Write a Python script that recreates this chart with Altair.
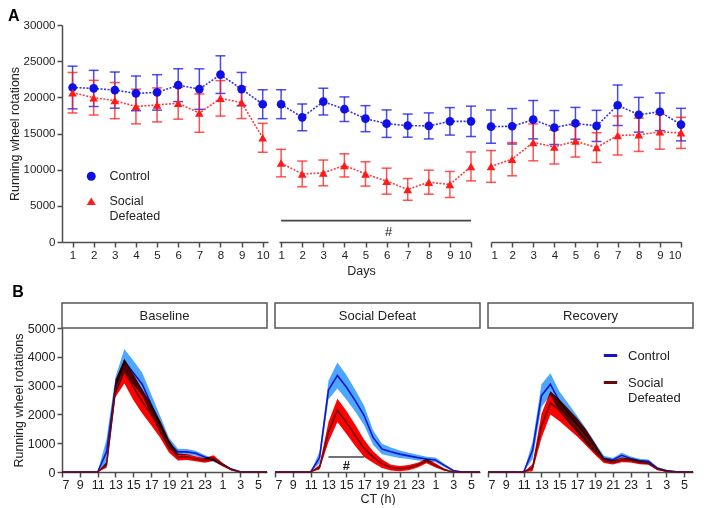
import altair as alt
import pandas as pd

FONT = "Liberation Sans"
AXC = "#4d4d4d"
groups = ["Control", "Social Defeated"]
colA = ["#1010e6", "#ff1a1a"]
shapesA = ["circle", "triangle-up"]
bandB = ["#4da6ff", "#ff0000"]
lineB = ["#1414cc", "#6b0b0b"]

# ---------------- Panel A data (daily totals, mean and SEM) ----------------
days = list(range(1, 11))
ctrl_base = [21360, 21230, 21000, 20550, 20680, 21680, 21140, 23140, 21140, 19050]
ctrl_base_sem = [2950, 2500, 2500, 2400, 2450, 2270, 2800, 2600, 2300, 2000]
sd_base = [20640, 19950, 19550, 18730, 18950, 19180, 17820, 19860, 19270, 14410]
sd_base_sem = [2800, 2400, 2500, 2400, 2350, 2200, 2650, 2450, 2200, 2000]
ctrl_def = [19050, 17230, 19410, 18360, 17050, 16360, 16090, 16050, 16680, 16680]
ctrl_def_sem = [2000, 1850, 1850, 1700, 1800, 1900, 1600, 1800, 1900, 2100]
sd_def = [10910, 9410, 9550, 10590, 9410, 8410, 7270, 8270, 7950, 10450]
sd_def_sem = [1900, 1780, 1780, 1600, 1680, 1800, 1500, 1660, 1800, 2000]
ctrl_rec = [15950, 16000, 16910, 15820, 16410, 16050, 18910, 17590, 18000, 16230]
ctrl_rec_sem = [2300, 2450, 2650, 2350, 2200, 2150, 2800, 2400, 2600, 2250]
sd_rec = [10450, 11450, 13770, 13140, 13950, 13050, 14730, 14820, 15230, 15090]
sd_rec_sem = [2200, 2300, 2550, 2350, 2200, 2050, 2700, 2300, 2400, 2150]
sig_a_days = [1, 10]
sig_a_level = 2950
sig_a_label_day = 6.1
sig_a_label_level = 1450

# ---------------- Panel B data (hourly profile, mean and SEM) ----------------
hours = list(range(7, 31))
hour_ticks = list(range(7, 30, 2))
b_ctrl_base = [0, 0, 0, 0, 0, 700, 3000, 3850, 3450, 3050, 2350, 1650, 1000, 700, 700, 650, 520, 420, 260, 100, 10, 0, 0, 0]
b_ctrl_base_sem = [0, 0, 0, 0, 0, 450, 300, 420, 420, 400, 350, 300, 200, 110, 100, 90, 70, 60, 40, 20, 10, 0, 0, 0]
b_sd_base = [0, 0, 0, 0, 0, 250, 2900, 3500, 2950, 2450, 2000, 1500, 900, 520, 520, 460, 400, 480, 260, 80, 0, 0, 0, 0]
b_sd_base_sem = [0, 0, 0, 0, 0, 100, 300, 430, 450, 420, 380, 300, 220, 120, 100, 90, 80, 100, 60, 30, 0, 0, 0, 0]
b_ctrl_def = [0, 0, 0, 0, 0, 500, 2850, 3350, 2950, 2480, 1960, 1200, 800, 700, 620, 560, 500, 450, 420, 230, 50, 0, 0, 0]
b_ctrl_def_sem = [0, 0, 0, 0, 0, 200, 320, 450, 430, 380, 340, 250, 180, 150, 130, 110, 100, 80, 80, 60, 30, 0, 0, 0]
b_sd_def = [0, 0, 0, 0, 0, 170, 1390, 2140, 1730, 1270, 820, 520, 290, 150, 120, 150, 240, 380, 230, 80, 0, 0, 0, 0]
b_sd_def_sem = [0, 0, 0, 0, 0, 80, 350, 400, 400, 370, 300, 200, 150, 100, 90, 90, 80, 80, 70, 40, 0, 0, 0, 0]
b_ctrl_rec = [0, 0, 0, 0, 0, 750, 2650, 3050, 2450, 2050, 1650, 1250, 850, 480, 420, 580, 470, 400, 370, 130, 50, 20, 0, 0]
b_ctrl_rec_sem = [0, 0, 0, 0, 0, 300, 400, 380, 350, 330, 300, 260, 180, 80, 70, 90, 70, 60, 60, 40, 30, 10, 0, 0]
b_sd_rec = [0, 0, 0, 0, 0, 150, 1600, 2400, 2150, 1850, 1550, 1200, 800, 400, 330, 420, 400, 330, 300, 100, 30, 0, 0, 0]
b_sd_rec_sem = [0, 0, 0, 0, 0, 120, 420, 400, 380, 350, 320, 280, 200, 90, 70, 80, 70, 60, 50, 40, 20, 0, 0, 0]
sig_b_hours = [13, 17]
sig_b_level = 520
sig_b_label_hour = 15
sig_b_label_level = 200

MULTI = "datum.label == 'Social Defeated' ? ['Social', 'Defeated'] : datum.label"
A_H = 217


# ---------------- Panel A ----------------
def seg(cm, cs, sm, ss, xdom, width, first=False, xtitle=None, sig=False):
    frames = []
    for g, m, s in ((groups[0], cm, cs), (groups[1], sm, ss)):
        frames.append(pd.DataFrame({"day": days, "group": g, "mean": m, "sem": s}))
    df = pd.concat(frames, ignore_index=True)
    df["lo"] = df["mean"] - df["sem"]
    df["hi"] = df["mean"] + df["sem"]
    xsc = alt.Scale(domain=xdom, nice=False, zero=False)
    if xtitle:
        xax = alt.Axis(values=days, format="d", title=xtitle, labelFontSize=11.5,
                       titleFontSize=12.5, titleFontWeight="normal", titlePadding=4, titleX=82)
    else:
        xax = alt.Axis(values=days, format="d", title=None, labelFontSize=11.5)
    x = alt.X("day:Q", scale=xsc, axis=xax)
    if first:
        yaxis = alt.Axis(values=[0, 5000, 10000, 15000, 20000, 25000, 30000], format="d",
                         title="Running wheel rotations", labelFontSize=11.5, titleFontSize=12.5,
                         titleFontWeight="normal", titlePadding=2)
    else:
        yaxis = None
    ysc = alt.Scale(domain=[0, 30000], nice=False)
    layers = []
    if sig:
        sdf = pd.DataFrame({"d1": [sig_a_days[0]], "d2": [sig_a_days[1]], "v": [sig_a_level]})
        layers.append(alt.Chart(sdf).mark_rule(color="#444", strokeWidth=1.6).encode(
            x=alt.X("d1:Q", scale=xsc, axis=xax), x2="d2:Q",
            y=alt.Y("v:Q", scale=ysc, axis=yaxis)))
        tdf = pd.DataFrame({"d": [sig_a_label_day], "v": [sig_a_label_level], "t": ["#"]})
        layers.append(alt.Chart(tdf).mark_text(font=FONT, fontSize=13, color="#222").encode(
            x=alt.X("d:Q", scale=xsc, axis=xax), y=alt.Y("v:Q", scale=ysc, axis=yaxis), text="t:N"))
    for i, g in enumerate(groups):
        base = alt.Chart(df).transform_filter(alt.datum.group == g)
        c = colA[i]
        layers.append(base.mark_line(strokeDash=[2, 1.5], strokeWidth=1.6, opacity=0.85, color=c).encode(
            x=x, y=alt.Y("mean:Q", scale=ysc, axis=yaxis)))
        layers.append(base.mark_rule(strokeWidth=1.5, opacity=0.75, color=c).encode(
            x=x, y=alt.Y("lo:Q", scale=ysc, axis=yaxis), y2="hi:Q"))
        layers.append(base.mark_tick(orient="horizontal", size=10, thickness=1.5, opacity=0.75, color=c).encode(
            x=x, y=alt.Y("lo:Q", scale=ysc, axis=yaxis)))
        layers.append(base.mark_tick(orient="horizontal", size=10, thickness=1.5, opacity=0.75, color=c).encode(
            x=x, y=alt.Y("hi:Q", scale=ysc, axis=yaxis)))
    if first:
        leg = alt.Legend(title=None, orient="none", legendX=23, legendY=145,
                         labelExpr=MULTI, labelFontSize=12.5, labelColor="#222",
                         symbolSize=80, rowPadding=12, labelOffset=12)
        layers.append(alt.Chart(df).mark_point(filled=True, size=75, opacity=1).encode(
            x=x, y=alt.Y("mean:Q", scale=ysc, axis=yaxis),
            color=alt.Color("group:N", scale=alt.Scale(domain=groups, range=colA), legend=leg),
            shape=alt.Shape("group:N", scale=alt.Scale(domain=groups, range=shapesA), legend=leg)))
    else:
        for i, g in enumerate(groups):
            base = alt.Chart(df).transform_filter(alt.datum.group == g)
            layers.append(base.mark_point(filled=True, size=75, opacity=1, color=colA[i], shape=shapesA[i]).encode(
                x=x, y=alt.Y("mean:Q", scale=ysc, axis=yaxis)))
    return alt.layer(*layers).properties(width=width, height=A_H)


s1 = seg(ctrl_base, ctrl_base_sem, sd_base, sd_base_sem, [0.5, 10.25], 206, first=True)
s2 = seg(ctrl_def, ctrl_def_sem, sd_def, sd_def_sem, [0.9, 10], 192, xtitle="Days", sig=True)
s3 = seg(ctrl_rec, ctrl_rec_sem, sd_rec, sd_rec_sem, [1, 10], 190)

panelA = alt.hconcat(
    alt.hconcat(s1, s2, spacing=6), s3, spacing=10,
    title=alt.Title("A", anchor="start", fontSize=16, fontWeight="bold", font=FONT,
                    color="#000", offset=-5, frame="bounds"),
)


# ---------------- Panel B ----------------
def facet(phase, cm, cs, sm, ss, first=False, last=False, xtitle=None, sig=False):
    frames = []
    for g, m, s in ((groups[0], cm, cs), (groups[1], sm, ss)):
        frames.append(pd.DataFrame({"hour": hours, "series": g, "mean": m, "sem": s}))
    df = pd.concat(frames, ignore_index=True)
    df["lo"] = (df["mean"] - df["sem"]).clip(lower=0)
    df["hi"] = df["mean"] + df["sem"]
    xsc = alt.Scale(domain=[7, 30], nice=False, zero=False)
    if xtitle:
        xax = alt.Axis(values=hour_ticks,
                       labelExpr="datum.value > 24 ? datum.value - 24 : datum.value",
                       title=xtitle, labelFontSize=12.5, titleFontSize=12.5,
                       titleFontWeight="normal", titlePadding=2, labelPadding=1)
    else:
        xax = alt.Axis(values=hour_ticks,
                       labelExpr="datum.value > 24 ? datum.value - 24 : datum.value",
                       title=None, labelFontSize=12.5, labelPadding=1)
    x = alt.X("hour:Q", scale=xsc, axis=xax)
    ysc = alt.Scale(domain=[0, 5000], nice=False)
    if first:
        yax = alt.Axis(values=[0, 1000, 2000, 3000, 4000, 5000], format="d",
                       title="Running wheel rotations", labelFontSize=12.5, titleFontSize=12.5,
                       titleFontWeight="normal", titlePadding=2)
    else:
        yax = None
    ctrl = alt.Chart(df).transform_filter(alt.datum.series == groups[0])
    sd = alt.Chart(df).transform_filter(alt.datum.series == groups[1])
    layers = [
        ctrl.mark_area(color=bandB[0]).encode(x=x, y=alt.Y("lo:Q", scale=ysc, axis=yax), y2="hi:Q"),
    ]
    if last:
        leg = alt.Legend(title=None, orient="none", legendX=540, legendY=44, labelExpr=MULTI,
                         labelFontSize=13, labelColor="#222",
                         symbolType="stroke", symbolStrokeWidth=3, symbolSize=180,
                         rowPadding=11, labelOffset=9)
        lcol = alt.Color("series:N", scale=alt.Scale(domain=groups, range=lineB), legend=leg)
        layers.append(ctrl.mark_line(strokeWidth=1.6).encode(
            x=x, y=alt.Y("mean:Q", scale=ysc, axis=yax), color=lcol))
        layers.append(sd.mark_area(color=bandB[1], blend="multiply").encode(
            x=x, y=alt.Y("lo:Q", scale=ysc, axis=yax), y2="hi:Q"))
        layers.append(sd.mark_line(strokeWidth=1.6).encode(
            x=x, y=alt.Y("mean:Q", scale=ysc, axis=yax), color=lcol))
    else:
        layers.append(ctrl.mark_line(strokeWidth=1.6, color=lineB[0]).encode(
            x=x, y=alt.Y("mean:Q", scale=ysc, axis=yax)))
        layers.append(sd.mark_area(color=bandB[1], blend="multiply").encode(
            x=x, y=alt.Y("lo:Q", scale=ysc, axis=yax), y2="hi:Q"))
        layers.append(sd.mark_line(strokeWidth=1.6, color=lineB[1]).encode(
            x=x, y=alt.Y("mean:Q", scale=ysc, axis=yax)))
    if sig:
        sdf = pd.DataFrame({"h1": [sig_b_hours[0]], "h2": [sig_b_hours[1]], "v": [sig_b_level]})
        layers.append(alt.Chart(sdf).mark_rule(color="#444", strokeWidth=1.6).encode(
            x=alt.X("h1:Q", scale=xsc, axis=xax), x2="h2:Q", y=alt.Y("v:Q", scale=ysc, axis=yax)))
        tdf = pd.DataFrame({"h": [sig_b_label_hour], "v": [sig_b_label_level], "t": ["#"]})
        layers.append(alt.Chart(tdf).mark_text(font=FONT, fontSize=13, color="#222", fontWeight="bold").encode(
            x=alt.X("h:Q", scale=xsc, axis=xax), y=alt.Y("v:Q", scale=ysc, axis=yax), text="t:N"))
    plot = alt.layer(*layers).properties(width=205, height=144)
    hdr = alt.Chart(pd.DataFrame({"phase": [phase]})).mark_text(
        font=FONT, fontSize=13, color="#222").encode(text="phase:N").properties(
        width=205, height=25, view=alt.ViewBackground(stroke="#555", strokeWidth=1.5, fill="white"))
    return alt.vconcat(hdr, plot, spacing=0, bounds="flush")


f1 = facet("Baseline", b_ctrl_base, b_ctrl_base_sem, b_sd_base, b_sd_base_sem, first=True)
f2 = facet("Social Defeat", b_ctrl_def, b_ctrl_def_sem, b_sd_def, b_sd_def_sem, xtitle="CT (h)", sig=True)
f3 = facet("Recovery", b_ctrl_rec, b_ctrl_rec_sem, b_sd_rec, b_sd_rec_sem, last=True)

panelB = alt.hconcat(
    f1, f2, f3, spacing=0,
    title=alt.Title("B", anchor="start", fontSize=16, fontWeight="bold", font=FONT,
                    color="#000", offset=2, frame="bounds"),
)

chart = alt.vconcat(panelA, panelB, spacing=7).resolve_scale(
    color="independent", shape="independent"
).properties(
    padding={"left": 0, "top": 0, "right": 0, "bottom": 0}
).configure_view(strokeWidth=0).configure_axis(
    grid=False, domainColor=AXC, tickColor=AXC, domainWidth=1.5, tickWidth=1.5, tickSize=5,
    labelColor="#222", titleColor="#222", labelFont=FONT, titleFont=FONT,
).configure_legend(labelFont=FONT)

chart.save("out.html", embed_options={"renderer": "svg", "actions": False})
